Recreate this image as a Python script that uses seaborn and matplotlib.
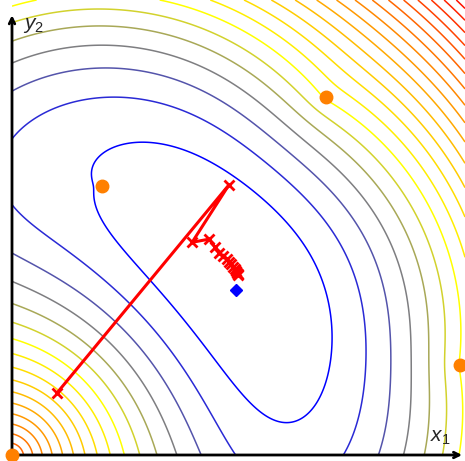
import numpy as np
import matplotlib
matplotlib.use("Agg")
import matplotlib.pyplot as plt
import seaborn as sns
from matplotlib.colors import LinearSegmentedColormap

sns.set_style("white")
plt.rcParams['mathtext.fontset'] = 'custom'
plt.rcParams['mathtext.it'] = 'Liberation Sans:italic'
plt.rcParams['mathtext.rm'] = 'Liberation Sans'

# anchors (orange points), measured ranges and weights of the objective
anchor_x = [0.0, 0.2, 0.7, 1.0]
anchor_y = [0.0, 0.6, 0.8, 0.2]
anchor_dist = [0.692, 0.147, 0.976, 0.382]
anchor_weight = [1.0, 0.237, 0.093, 0.184]
level_offset, level_scale = -1.321, 30.516
levels = list(range(1, 24))

# true position (blue) and iterates (red)
true_x, true_y = [0.5], [0.368]
path_x = [0.100, 0.484, 0.402, 0.440, 0.453, 0.462, 0.471, 0.480, 0.484, 0.489,
          0.493, 0.498, 0.500, 0.502, 0.504, 0.504]
path_y = [0.138, 0.603, 0.475, 0.482, 0.464, 0.451, 0.444, 0.438, 0.431, 0.426,
          0.420, 0.415, 0.411, 0.406, 0.404, 0.402]

xmax, ymax = 1.011, 1.016
gx = np.linspace(0, xmax, 500)
gy = np.linspace(0, ymax, 500)
GX, GY = np.meshgrid(gx, gy)
obj = np.zeros_like(GX)
for axp, ayp, dd, ww in zip(anchor_x, anchor_y, anchor_dist, anchor_weight):
    obj += ww * (np.hypot(GX - axp, GY - ayp) - dd) ** 2
Z = level_offset + level_scale * obj

fig = plt.figure(figsize=(4.65, 4.61), dpi=100)
ax = fig.add_axes([12/465, 6/461, 453/465, 455/461])
cmap = LinearSegmentedColormap.from_list('byr', [(0, (0, 0, 1)), (6/21, (1, 1, 0)), (1, (1, 0, 0))])
ax.contour(GX, GY, Z, levels=levels, cmap=cmap, vmin=1, vmax=22, linewidths=1.1)
ax.plot(path_x, path_y, '-x', color='r', lw=2.2, ms=7, mew=2, zorder=4)
ax.plot(anchor_x, anchor_y, 'o', color='#ff8000', ms=9, zorder=5, clip_on=False)
ax.plot(true_x, true_y, 'D', color='b', ms=6, zorder=5)
ax.set_xlim(0, xmax)
ax.set_ylim(0, ymax)
ax.axis('off')
ax.annotate('', xy=(1.0045, 0), xytext=(0, 0),
            arrowprops=dict(arrowstyle='->', lw=2, color='k', shrinkA=0, shrinkB=0),
            annotation_clip=False)
ax.annotate('', xy=(0, 0.982), xytext=(0, 0),
            arrowprops=dict(arrowstyle='->', lw=2, color='k', shrinkA=0, shrinkB=0),
            annotation_clip=False)
ax.text(0.025, 0.951, '$y_2$', fontsize=15)
ax.text(0.933, 0.029, '$x_1$', fontsize=15)
fig.savefig('out.png')
